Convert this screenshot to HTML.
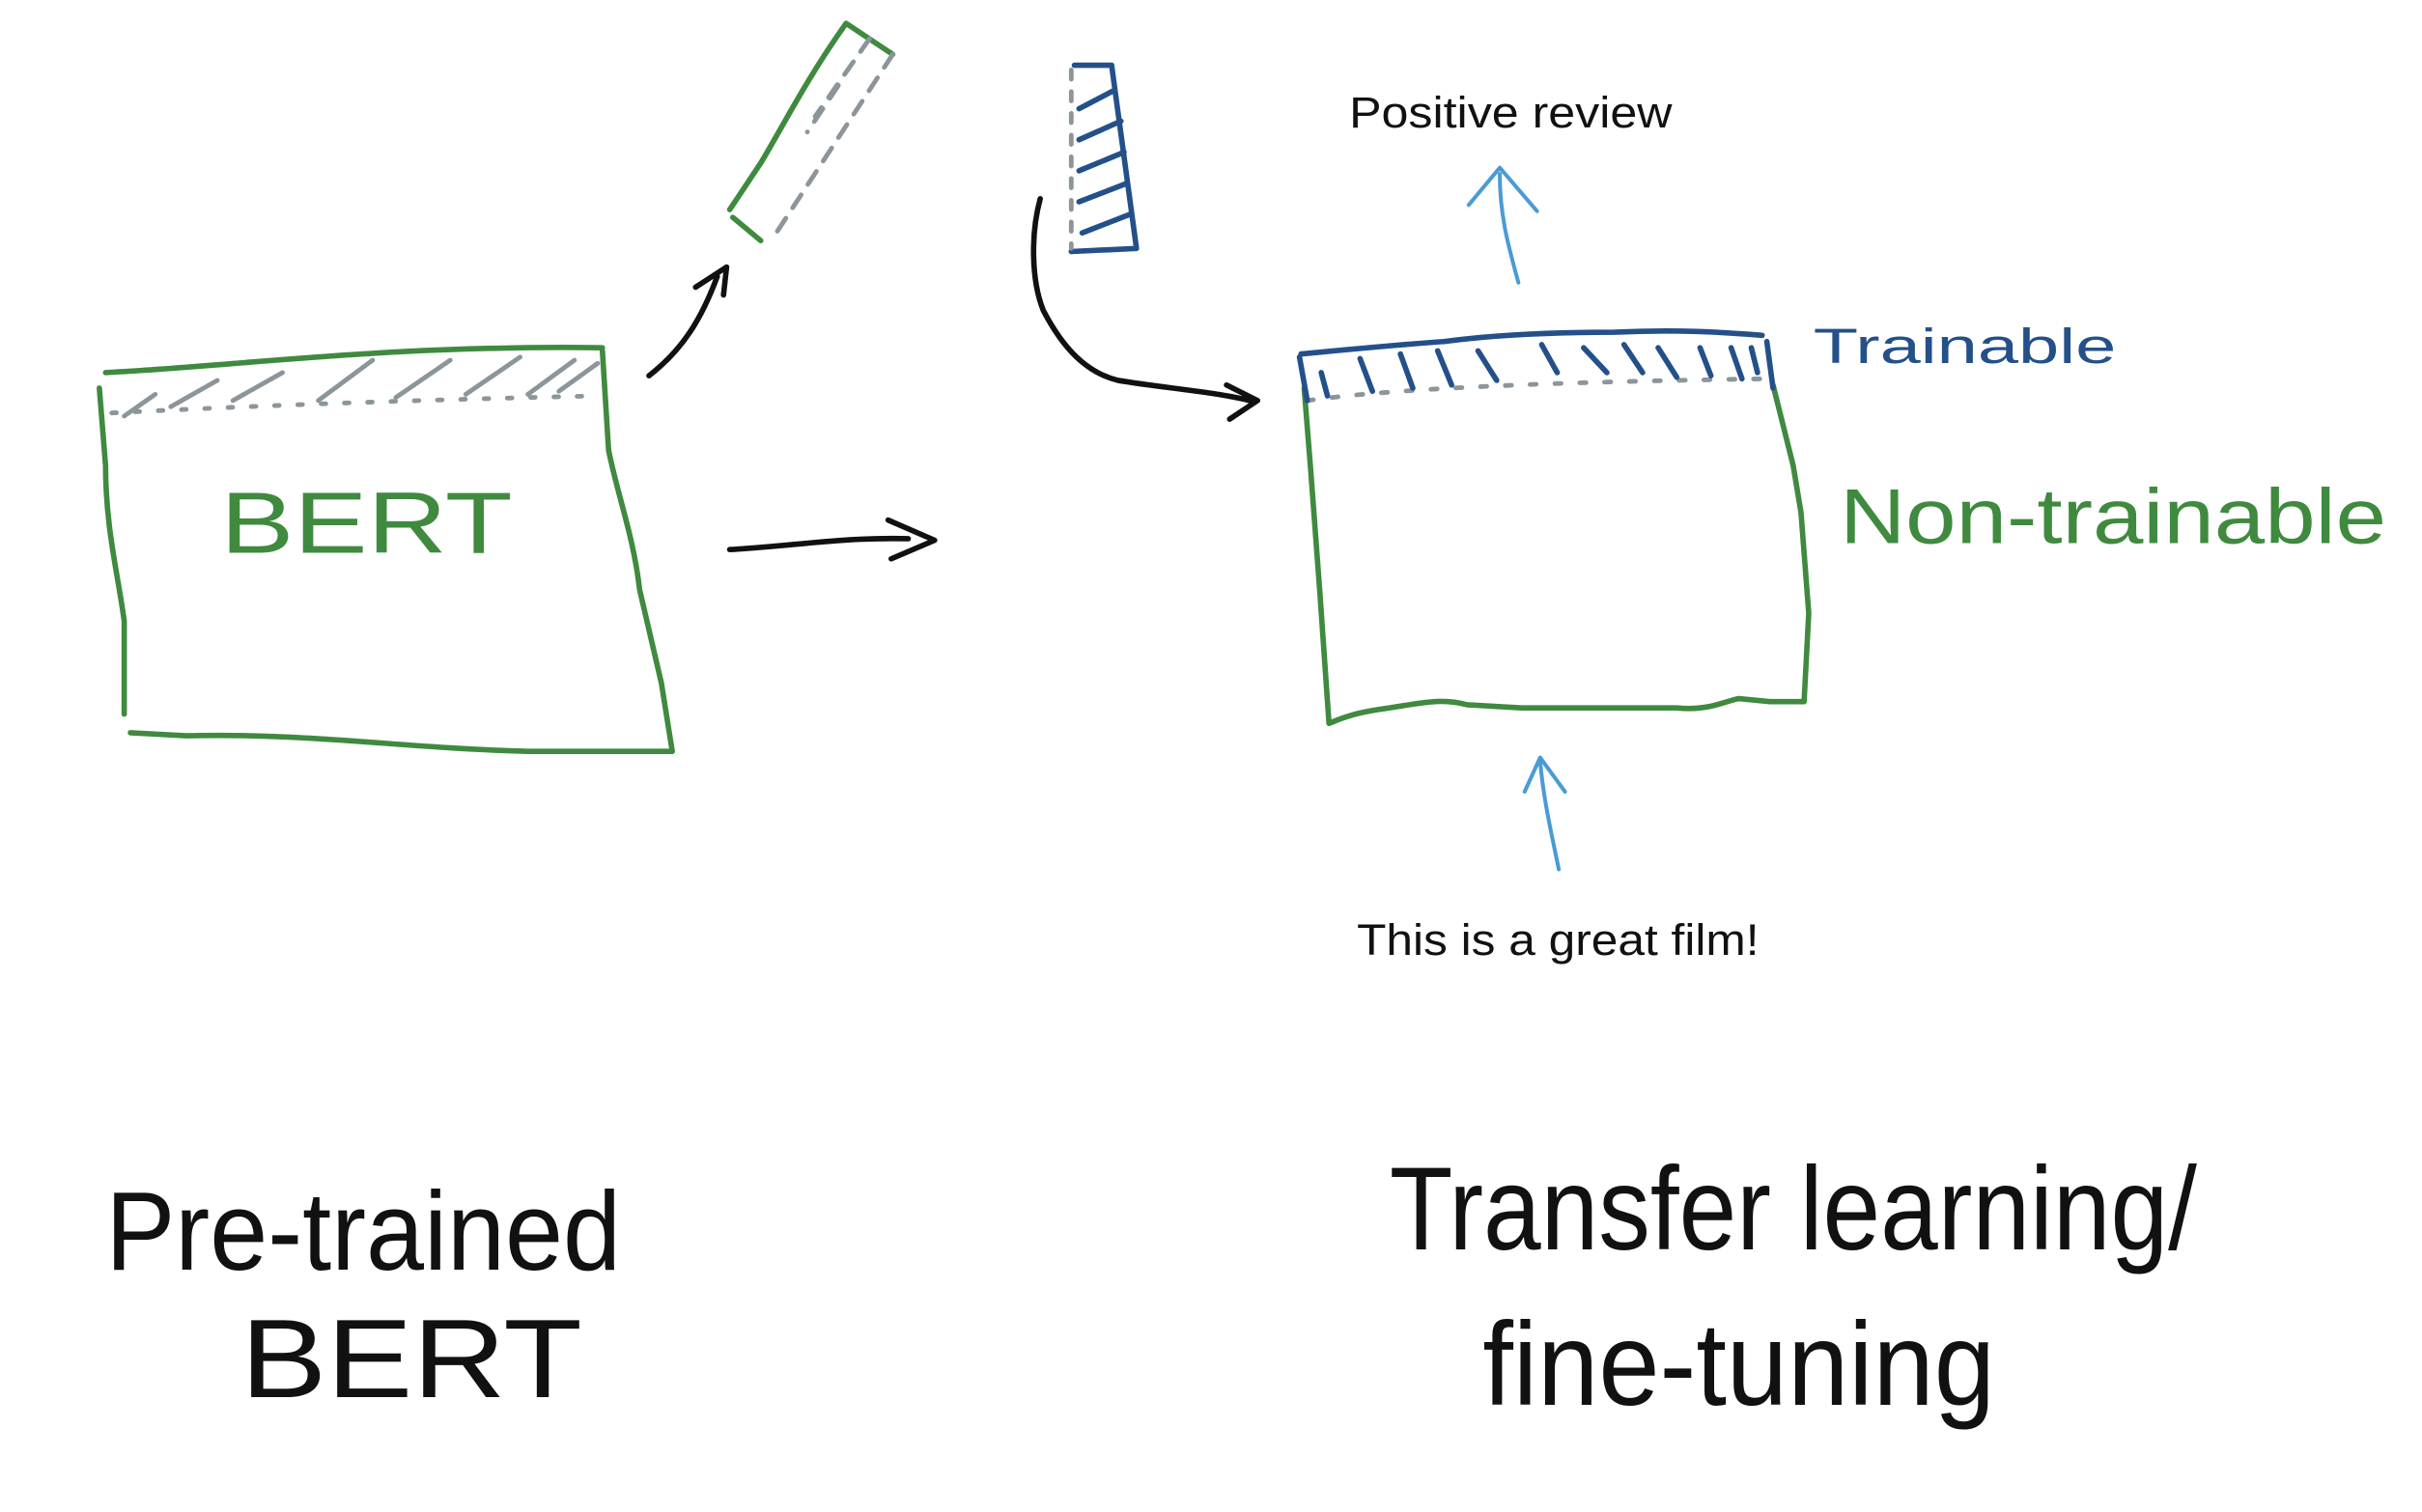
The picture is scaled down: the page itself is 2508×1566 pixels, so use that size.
<!DOCTYPE html>
<html><head><meta charset="utf-8"><style>
html,body{margin:0;padding:0;background:#fff;}
svg{display:block;}
</style></head><body>
<svg width="2508" height="1566" viewBox="0 0 1560 974" xmlns="http://www.w3.org/2000/svg" fill="none" stroke-linecap="round" stroke-linejoin="round">
<g stroke="#3f8a3f" stroke-width="3.5">
<path d="M68,240 C150,236 250,222 388,224"/>
<path d="M388,226 L392,290 C398,320 408,345 412,380 L426,440 L433,484 L340,484 C260,482 200,472 120,474 L84,472"/>
<path d="M80,460 L80,400 C76,370 68,340 68,300 L64,250"/>
</g>
<path d="M72,266 C150,262 250,258 385,255" stroke="#8c959a" stroke-width="3" stroke-dasharray="3,12"/>
<g stroke="#8c959a" stroke-width="3">
<path d="M80,268 L100,254"/><path d="M110,262 L140,245"/><path d="M150,258 L182,240"/><path d="M205,258 L240,232"/><path d="M255,256 L290,232"/><path d="M300,254 L335,230"/><path d="M340,254 L370,232"/><path d="M360,252 L385,234"/>
</g>
<text x="142" y="356" font-family="Liberation Sans, sans-serif" font-size="56" fill="#3f8a3f" textLength="188" lengthAdjust="spacingAndGlyphs">BERT</text>
<g stroke="#111" stroke-width="3.5">
<path d="M418,242 C440,225 452,205 462,178"/>
<path d="M448,185 L468,172 L466,190"/>
<path d="M470,354 C510,352 540,346 585,347"/>
<path d="M572,335 L602,348 L574,360"/>
<path d="M670,128 C664,150 664,180 672,200 C685,225 700,240 720,245 C750,250 780,252 805,258"/>
<path d="M790,248 L810,258 L792,270"/>
</g>
<path d="M470,135 L490,105 C505,80 520,50 545,15 L575,35" stroke="#3f8a3f" stroke-width="3.5"/>
<path d="M472,140 L490,155" stroke="#3f8a3f" stroke-width="3.5"/>
<g stroke="#8c959a" stroke-width="3" stroke-dasharray="10,8">
<path d="M575,35 L500,150"/><path d="M560,25 L525,75"/><path d="M540,55 L520,85"/>
</g>
<g stroke="#24508a" stroke-width="3.5">
<path d="M692,42 L716,42 L732,160 L690,162"/>
<path d="M695,70 L718,58"/><path d="M695,90 L722,78"/><path d="M695,110 L724,98"/><path d="M695,130 L726,118"/><path d="M697,150 L728,138"/>
</g>
<path d="M690,45 L690,160" stroke="#8c959a" stroke-width="3" stroke-dasharray="6,8"/>
<g stroke="#3f8a3f" stroke-width="3.5">
<path d="M840,250 L844,300 L850,380 L856,466 C870,460 880,458 895,456 C920,452 930,450 945,454 L980,456 L1080,456 C1100,458 1110,452 1120,450 L1140,452 L1162,452 L1165,395 L1160,330 L1155,300 L1142,248"/>
</g>
<path d="M842,258 C900,250 1000,246 1138,244" stroke="#8c959a" stroke-width="3" stroke-dasharray="4,12"/>
<g stroke="#24508a" stroke-width="3.5">
<path d="M838,228 C870,225 900,222 930,220 C960,216 1000,214 1040,214 C1080,212 1110,214 1135,216"/>
<path d="M837,230 L842,258"/><path d="M1138,220 L1142,250"/>
<path d="M851,240 L855,255"/><path d="M876,231 L884,252"/><path d="M902,228 L910,250"/><path d="M926,226 L935,248"/><path d="M952,226 L964,245"/><path d="M993,222 L1003,240"/><path d="M1020,224 L1035,240"/><path d="M1046,222 L1058,240"/><path d="M1068,224 L1080,243"/><path d="M1095,224 L1102,242"/><path d="M1115,224 L1122,244"/><path d="M1128,224 L1132,240"/>
</g>
<text x="1168" y="234" font-family="Liberation Sans, sans-serif" font-size="32" fill="#24508a" textLength="195" lengthAdjust="spacingAndGlyphs">Trainable</text>
<text x="1185" y="350" font-family="Liberation Sans, sans-serif" font-size="50" fill="#3f8a3f" textLength="352" lengthAdjust="spacingAndGlyphs">Non-trainable</text>
<g stroke="#4a9bd4" stroke-width="2.5">
<path d="M978,182 C972,160 966,140 966,112"/>
<path d="M946,132 L966,108 L990,136"/>
<path d="M1004,560 C1000,540 994,515 992,490"/>
<path d="M982,510 L992,488 L1008,510"/>
</g>
<text x="869" y="82" font-family="Liberation Sans, sans-serif" font-size="28" fill="#111" textLength="208" lengthAdjust="spacingAndGlyphs">Positive review</text>
<text x="874" y="615" font-family="Liberation Sans, sans-serif" font-size="28" fill="#111" textLength="259" lengthAdjust="spacingAndGlyphs">This is a great film!</text>
<text x="68" y="818" font-family="Liberation Sans, sans-serif" font-size="72" fill="#111" textLength="332" lengthAdjust="spacingAndGlyphs">Pre-trained</text>
<text x="155" y="900" font-family="Liberation Sans, sans-serif" font-size="72" fill="#111" textLength="220" lengthAdjust="spacingAndGlyphs">BERT</text>
<text x="895" y="805" font-family="Liberation Sans, sans-serif" font-size="76" fill="#111" textLength="520" lengthAdjust="spacingAndGlyphs">Transfer learning/</text>
<text x="955" y="905" font-family="Liberation Sans, sans-serif" font-size="76" fill="#111" textLength="330" lengthAdjust="spacingAndGlyphs">fine-tuning</text>
</svg>
</body></html>
